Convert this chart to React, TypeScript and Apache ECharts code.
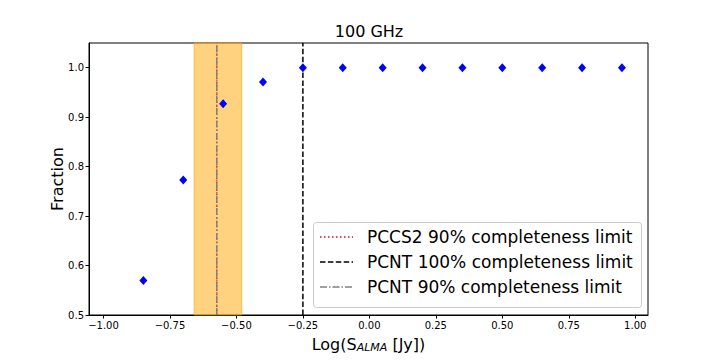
import React, { useEffect, useRef } from "react";
import * as echarts from "echarts";

const fluxBins: number[] = [-0.85, -0.7, -0.55, -0.4, -0.25, -0.1, 0.05, 0.2, 0.35, 0.5, 0.65, 0.8, 0.95];
const fractions: number[] = [0.57, 0.773, 0.927, 0.971, 1.0, 1.0, 1.0, 1.0, 1.0, 1.0, 1.0, 1.0, 1.0];
const xTicks: number[] = [-1.0, -0.75, -0.5, -0.25, 0.0, 0.25, 0.5, 0.75, 1.0];
const yTicks: number[] = [0.5, 0.6, 0.7, 0.8, 0.9, 1.0];
const pccs2Limit = -0.574;
const pcnt100Limit = -0.25;
const pcnt90Limit = -0.574;
const pcnt90Band: number[] = [-0.659, -0.48];
const legendLabels: string[] = [
  "PCCS2 90% completeness limit",
  "PCNT 100% completeness limit",
  "PCNT 90% completeness limit",
];

const FONT = "DejaVu Sans";
const X_MIN = -1.0545;
const X_MAX = 1.048;
const Y_MIN = 0.5;
const Y_MAX = 1.05;

export default function App() {
  const ref = useRef<HTMLDivElement>(null);
  useEffect(() => {
    if (!ref.current) return;
    const chart = echarts.init(ref.current, null, { renderer: "svg" });
    const vline = (x: number) => [
      [x, Y_MIN],
      [x, Y_MAX],
    ];
    const legendStyles = [
      { stroke: "#ff0000", lineDash: [1.5, 2.5], lineWidth: 1.5 },
      { stroke: "#000000", lineDash: [5.5, 2.4], lineWidth: 1.5 },
      { stroke: "#808080", lineDash: [7, 2, 1.5, 2], lineWidth: 1.5 },
    ];
    const rowYs = [237, 262, 287];
    const legendGraphics: any[] = [
      {
        type: "rect",
        shape: { x: 313.5, y: 222.5, width: 328, height: 85, r: 3 },
        style: { fill: "rgba(255,255,255,0.8)", stroke: "#cccccc", lineWidth: 1 },
        z: 100,
      },
    ];
    legendLabels.forEach((lbl, i) => {
      legendGraphics.push({
        type: "line",
        shape: { x1: 320, y1: rowYs[i], x2: 353, y2: rowYs[i] },
        style: { ...legendStyles[i], fill: null },
        z: 101,
      });
      legendGraphics.push({
        type: "text",
        x: 367,
        y: rowYs[i],
        style: {
          text: lbl,
          font: `17px "${FONT}"`,
          fill: "#000",
          verticalAlign: "middle",
          align: "left",
        },
        z: 101,
      });
    });

    chart.setOption({
      animation: false,
      backgroundColor: "#ffffff",
      title: {
        text: "100 GHz",
        left: 369,
        top: 23,
        padding: 0,
        textAlign: "center",
        textStyle: { fontFamily: FONT, fontSize: 16, fontWeight: "normal", color: "#000" },
      },
      grid: {
        left: 89,
        right: 72,
        top: 43,
        bottom: 45,
        outerBoundsMode: "none",
        containLabel: false,
        show: true,
        borderColor: "#000",
        borderWidth: 1,
        backgroundColor: "transparent",
      },
      xAxis: {
        type: "value",
        min: X_MIN,
        max: X_MAX,
        name: "{n|Log(S}{s|ALMA}{n| [Jy])}",
        nameLocation: "middle",
        nameGap: 20,
        nameMoveOverlap: false,
        nameTextStyle: {
          rich: {
            n: { fontFamily: FONT, fontSize: 16, color: "#000" },
            s: { fontFamily: FONT, fontSize: 11, fontStyle: "italic", color: "#000", padding: [7, 0, 0, 0] },
          },
        },
        splitLine: { show: false },
        axisLine: { show: true, onZero: false, lineStyle: { color: "#000" } },
        axisTick: { show: true, customValues: xTicks, length: 3.5, lineStyle: { color: "#000" } },
        axisLabel: {
          customValues: xTicks,
          fontFamily: FONT,
          fontSize: 10,
          color: "#000",
          margin: 5,
          formatter: (v: number) => (v < 0 ? "\u2212" + Math.abs(v).toFixed(2) : v.toFixed(2)),
        },
      },
      yAxis: {
        type: "value",
        min: Y_MIN,
        max: Y_MAX,
        name: "Fraction",
        nameLocation: "middle",
        nameGap: 24,
        nameMoveOverlap: false,
        nameTextStyle: { fontFamily: FONT, fontSize: 16, color: "#000" },
        splitLine: { show: false },
        axisLine: { show: true, onZero: false, lineStyle: { color: "#000" } },
        axisTick: { show: true, customValues: yTicks, length: 3.5, lineStyle: { color: "#000" } },
        axisLabel: {
          customValues: yTicks,
          fontFamily: FONT,
          fontSize: 10,
          color: "#000",
          margin: 5,
          formatter: (v: number) => v.toFixed(1),
        },
      },
      series: [
        {
          type: "line",
          data: vline(pcnt90Band[0]),
          showSymbol: false,
          lineStyle: { width: 0, opacity: 0 },
          silent: true,
          z: 1,
          markArea: {
            silent: true,
            itemStyle: { color: "rgba(255,165,0,0.5)", borderColor: "rgba(255,165,0,0.6)", borderWidth: 1 },
            data: [[{ xAxis: pcnt90Band[0] }, { xAxis: pcnt90Band[1] }]],
          },
        },
        {
          type: "line",
          data: vline(pccs2Limit),
          showSymbol: false,
          lineStyle: { color: "#ff0000", width: 1.5, type: [1.5, 2.5], opacity: 0.8 },
          z: 2,
        },
        {
          type: "line",
          data: vline(pcnt90Limit),
          showSymbol: false,
          lineStyle: { color: "#808080", width: 1.5, type: [7, 2, 1.5, 2] },
          z: 3,
        },
        {
          type: "line",
          data: vline(pcnt100Limit),
          showSymbol: false,
          lineStyle: { color: "#000000", width: 1.5, type: [5.5, 2.4] },
          z: 3,
        },
        {
          type: "scatter",
          data: fluxBins.map((x, i) => [x, fractions[i]]),
          symbol: "diamond",
          symbolSize: [8, 9],
          itemStyle: { color: "#0000ff", opacity: 1 },
          z: 5,
        },
      ],
      graphic: legendGraphics,
    });
    return () => chart.dispose();
  }, []);
  return <div ref={ref} style={{ position: "absolute", left: 0, top: 0, width: 720, height: 360 }} />;
}
